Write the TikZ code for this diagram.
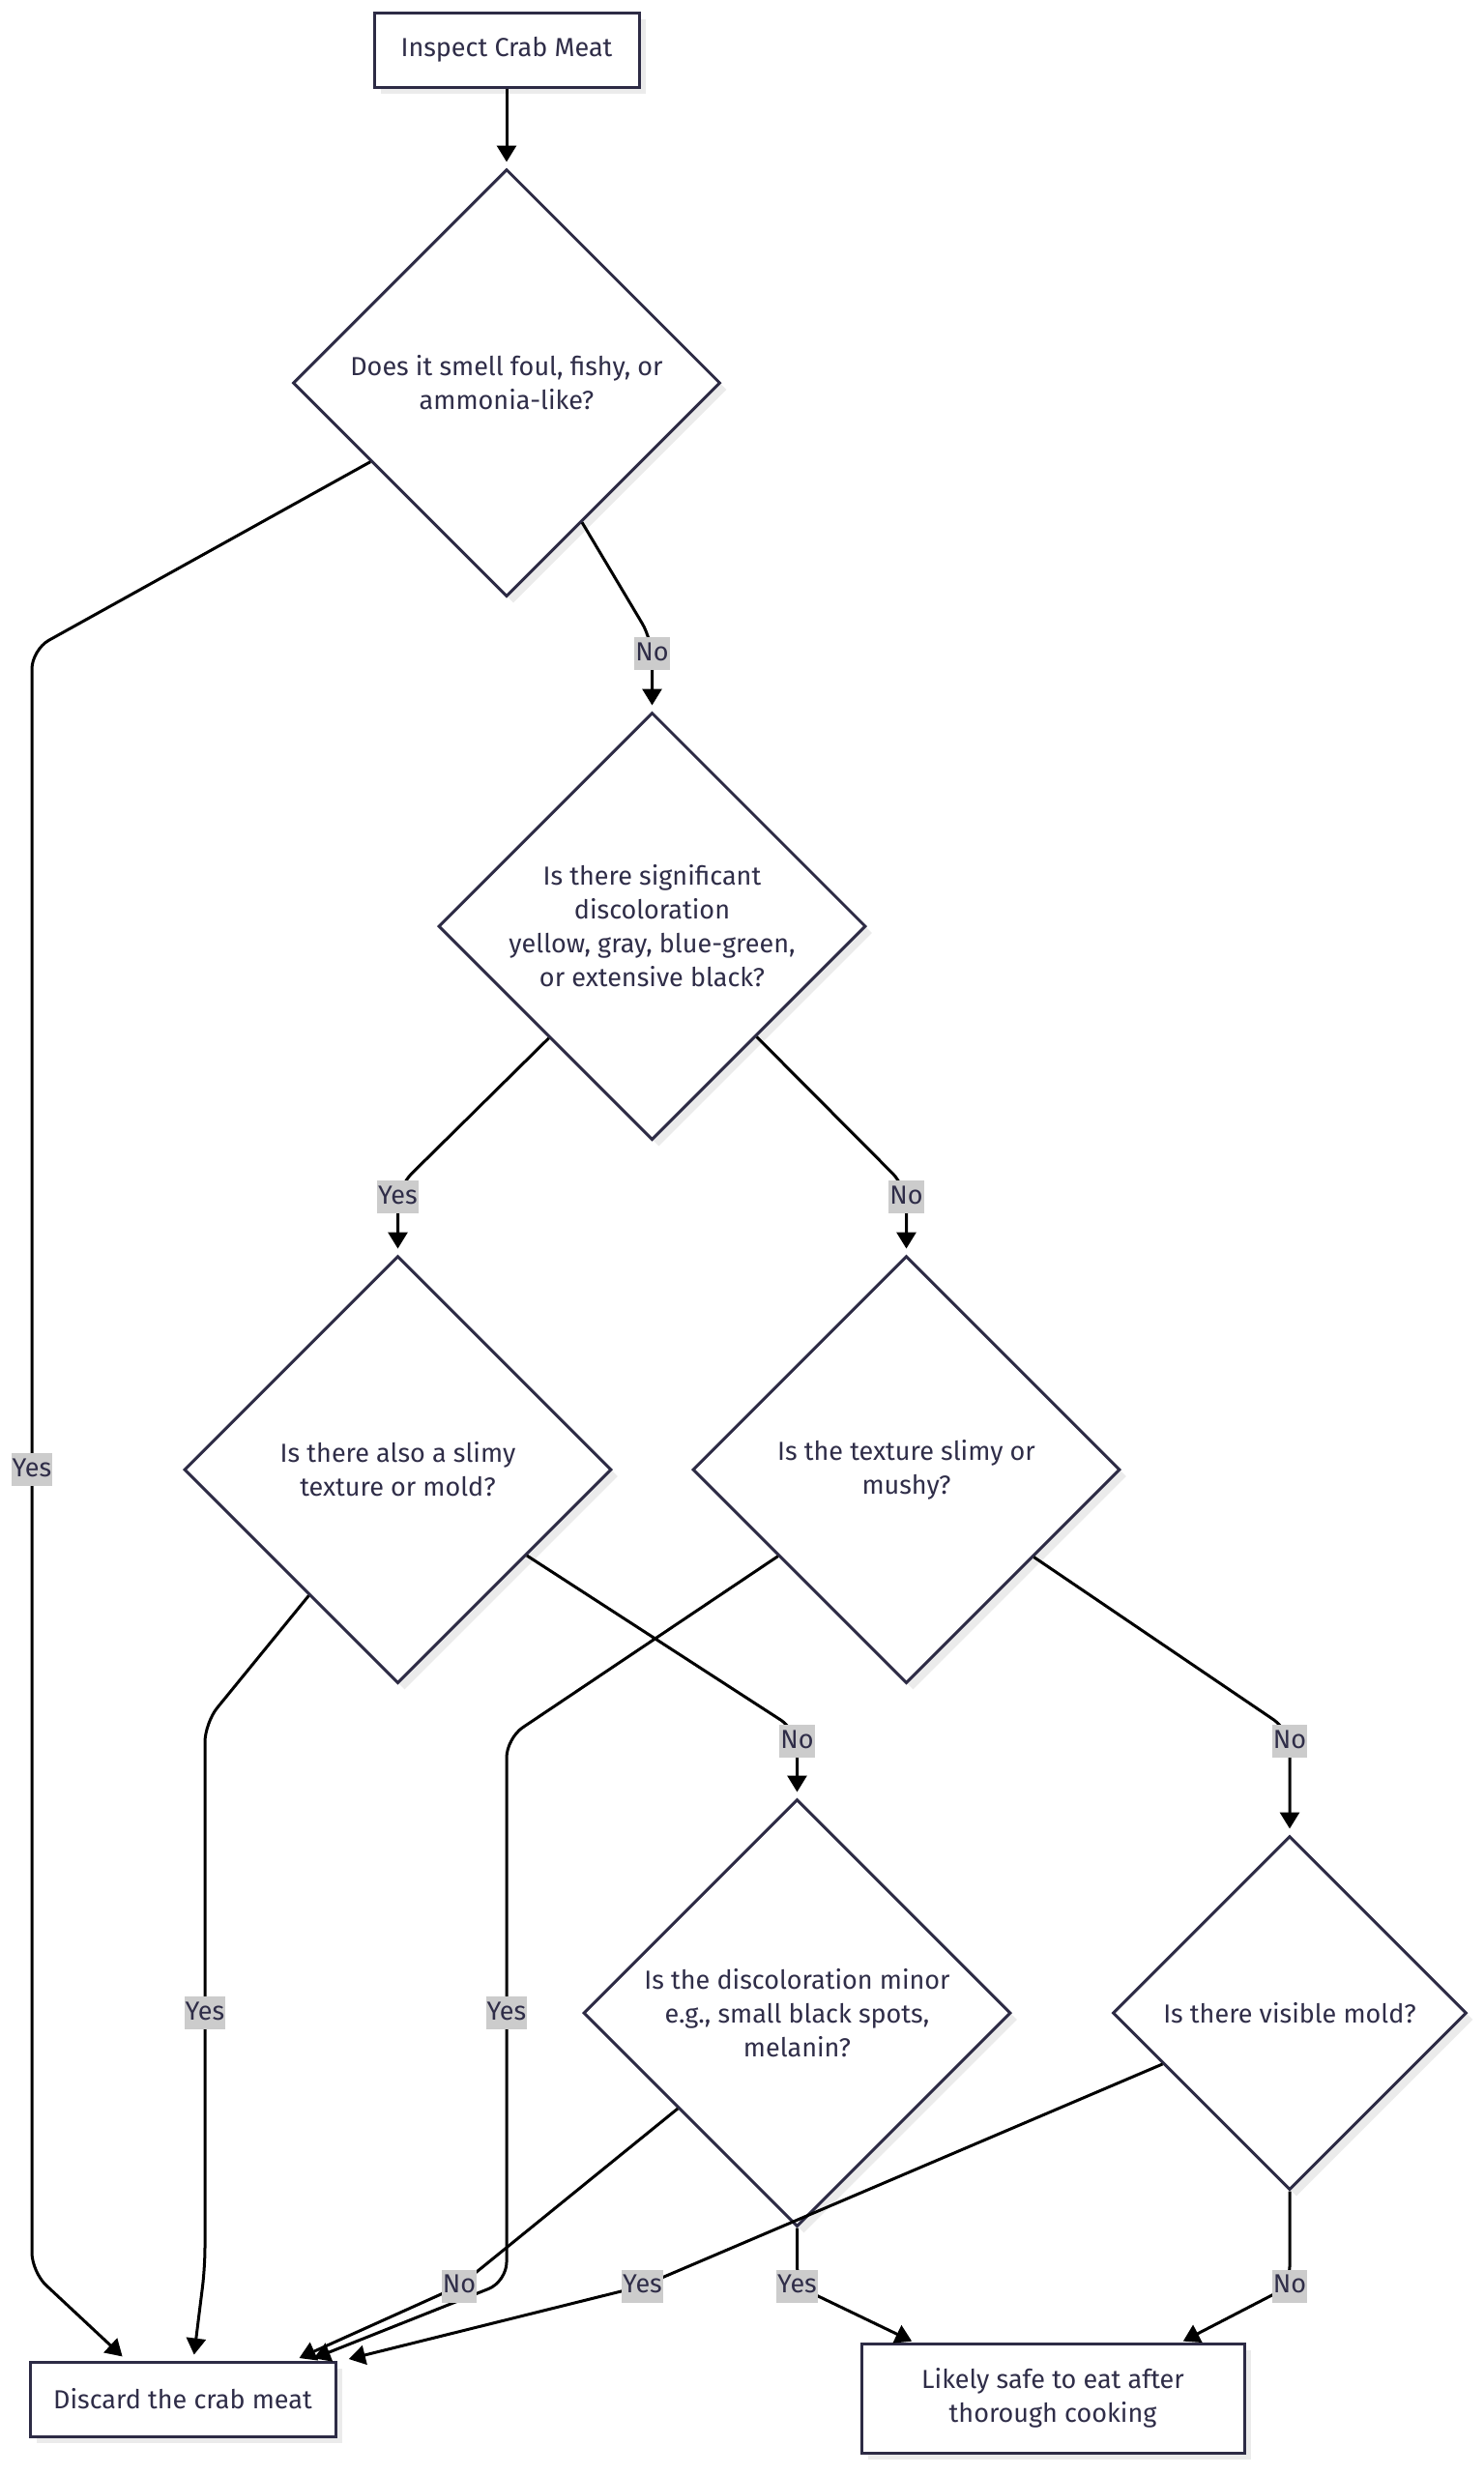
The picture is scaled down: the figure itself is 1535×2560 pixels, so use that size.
\documentclass[tikz,border=0pt]{standalone}
\usepackage{fontspec}
\setmainfont{Fira Sans}
\usetikzlibrary{arrows.meta,shapes.geometric,calc,shadows}
\definecolor{nodestroke}{HTML}{2D2B45}
\definecolor{txt}{HTML}{2F2D48}
\definecolor{lblbg}{HTML}{CCCCCC}
\definecolor{shade}{HTML}{EBEBEB}
\begin{document}
\begin{tikzpicture}[x=0.5pt,y=-0.5pt,
  base/.style={draw=nodestroke, line width=1.5pt, fill=white, text=txt,
    font=\fontsize{13.5}{17.5}\selectfont, align=center, inner sep=0pt,
    drop shadow={shadow xshift=3.5pt, shadow yshift=-3.5pt, fill=shade, opacity=1}},
  box/.style={base, rectangle},
  dia/.style={base, diamond, minimum width=221pt, minimum height=221pt},
  smalldia/.style={dia, minimum width=183pt, minimum height=183pt},
  lbl/.style={fill=lblbg, text=txt, font=\fontsize{13.5}{17.5}\selectfont,
    inner xsep=0.5pt, inner ysep=2pt, text height=10pt, text depth=3pt},
  edge/.style={draw=black, line width=1.5pt, -{Triangle[length=8.5pt,width=10pt]},
    rounded corners=10pt, shorten >=3pt}
]
\useasboundingbox (0,0) rectangle (1535,2560);

% nodes
\node[box, minimum width=137pt, minimum height=38.5pt] (start) at (524,51.5) {Inspect Crab Meat};
\node[dia] (d1) at (524,396) {Does it smell foul, fishy, or\\ammonia-like?};
\node[dia] (d2) at (674.5,958) {Is there significant\\discoloration\\yellow, gray, blue-green,\\or extensive black?};
\node[dia] (d3) at (411.5,1520) {Is there also a slimy\\texture or mold?};
\node[dia] (d4) at (937.5,1520) {Is the texture slimy or\\mushy?};
\node[dia] (d5) at (824.5,2082) {Is the discoloration minor\\e.g., small black spots,\\melanin?};
\node[smalldia] (d6) at (1334,2082) {Is there visible mold?};
\node[box, minimum width=158pt, minimum height=38.5pt] (discard) at (189,2481.5) {Discard the crab meat};
\node[box, minimum width=198pt, minimum height=56.5pt] (safe) at (1089,2480.5) {Likely safe to eat after\\thorough cooking};

% label positions
\coordinate (l1) at (33,1520);
\coordinate (l2) at (674.5,676);
\coordinate (l3) at (411.5,1238);
\coordinate (l4) at (937.5,1238);
\coordinate (l5) at (212,2082);
\coordinate (l6) at (824.5,1801);
\coordinate (l7) at (524,2082);
\coordinate (l8) at (1334,1801);
\coordinate (l9) at (475,2364.5);
\coordinate (l10) at (824.5,2364.5);
\coordinate (l11) at (664.5,2364.5);
\coordinate (l12) at (1334,2364.5);

% edges
\draw[edge] (start.south) -- (d1.north);
\draw[edge] ($(d1.west)!0.367!(d1.south)$) -- (33,672) -- (l1) -- (33,2350) -- ([xshift=-29pt]discard.north);
\draw[edge] ($(d1.east)!0.649!(d1.south)$) -- (674.5,662) -- (d2.north);
\draw[edge] ($(d2.west)!0.52!(d2.south)$) -- (411.5,1228) -- (d3.north);
\draw[edge] ($(d2.east)!0.514!(d2.south)$) -- (937.5,1228) -- (d4.north);
\draw[edge] ($(d3.west)!0.586!(d3.south)$) -- (212,1782) -- (l5) -- (212,2345) -- ([xshift=5.5pt]discard.north);
\draw[edge] ($(d3.east)!0.4!(d3.south)$) -- (824.5,1790) -- (d5.north);
\draw[edge] ($(d4.west)!0.403!(d4.south)$) -- (524,1798) -- (l7) -- (524,2360) -- ([xshift=65pt]discard.north);
\draw[edge] ($(d4.east)!0.407!(d4.south)$) -- (1334,1790) -- (d6.north);
\draw[edge] ($(d5.west)!0.445!(d5.south)$) -- (l9) -- ([xshift=57.5pt]discard.north);
\draw[edge, shorten >=1pt] (d5.south) -- (l10) -- ([xshift=-72pt]safe.north);
\draw[edge] ($(d6.west)!0.287!(d6.south)$) -- (l11) -- ([xshift=83pt]discard.north);
\draw[edge, shorten >=1pt] (d6.south) -- (l12) -- ([xshift=66.5pt]safe.north);

% edge labels
\node[lbl] (t1) at (l1) {Yes};
\node[lbl] (t2) at (l2) {No};
\node[lbl] (t3) at (l3) {Yes};
\node[lbl] (t4) at (l4) {No};
\node[lbl] (t5) at (l5) {Yes};
\node[lbl] (t6) at (l6) {No};
\node[lbl] (t7) at (l7) {Yes};
\node[lbl] (t8) at (l8) {No};
\node[lbl] (t9) at (l9) {No};
\node[lbl] (t10) at (l10) {Yes};
\node[lbl] (t11) at (l11) {Yes};
\node[lbl] (t12) at (l12) {No};
\end{tikzpicture}
\end{document}
